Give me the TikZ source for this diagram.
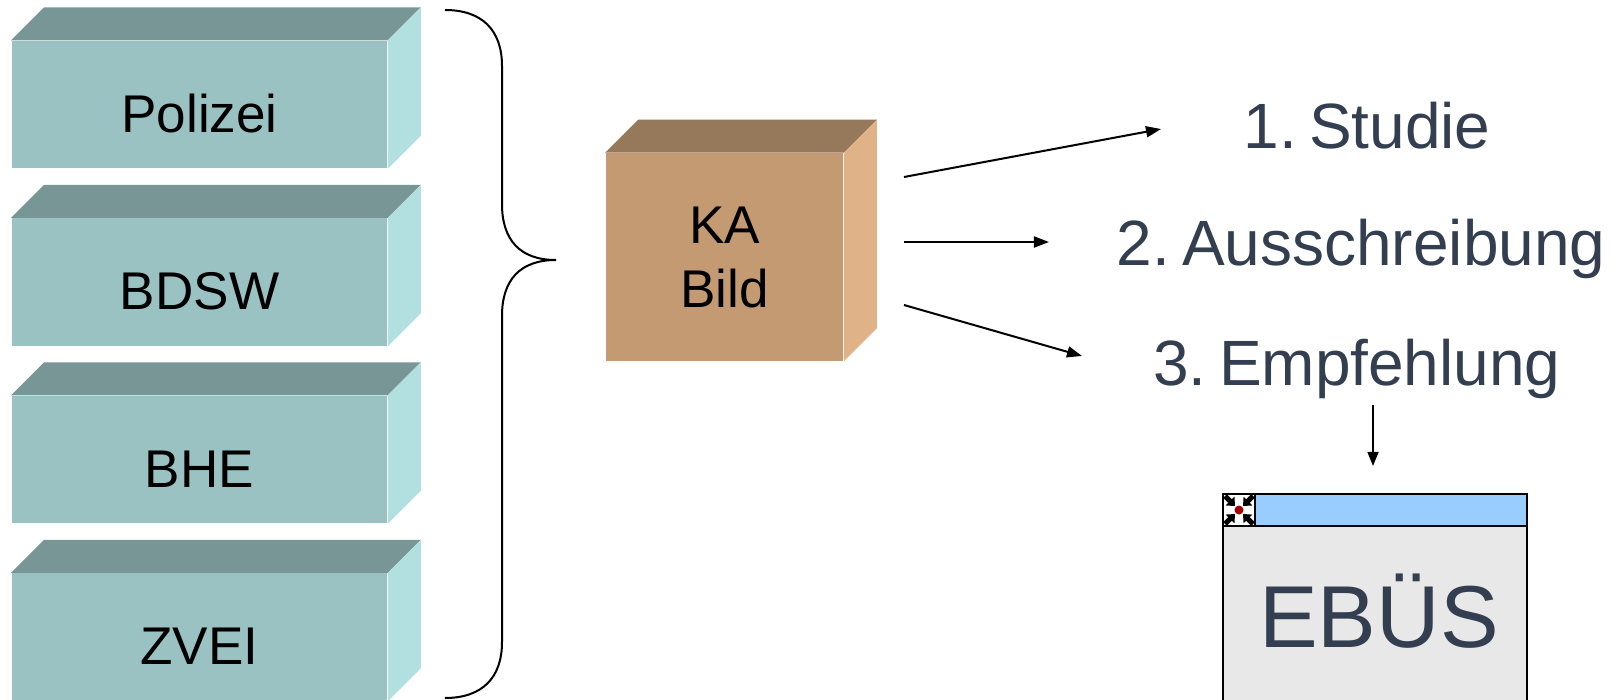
\documentclass[tikz,border=0pt]{standalone}
\usepackage{fontspec}
\setmainfont{Liberation Sans}
\usetikzlibrary{positioning}
\usetikzlibrary{arrows.meta}
\definecolor{tealfront}{HTML}{9BC2C2}
\definecolor{tealtop}{HTML}{789695}
\definecolor{tealside}{HTML}{B2DFDF}
\definecolor{brownfront}{HTML}{C39A72}
\definecolor{browntop}{HTML}{96785A}
\definecolor{brownside}{HTML}{DFB287}
\definecolor{slatetext}{HTML}{333F50}
\definecolor{titleblue}{HTML}{99CCFF}
\definecolor{wingray}{HTML}{E8E8E8}
\tikzset{
    tealbox/.style = {fill=tealfront, minimum width=3.75cm, minimum height=1.27cm, inner sep=0pt, text height=0.55cm, text depth=0cm, font=\fontsize{15.1pt}{18pt}\selectfont, text=black},
    brownbox/.style = {fill=brownfront, minimum width=2.37cm, minimum height=2.07cm, inner sep=0pt, align=center, font=\fontsize{15.1pt}{18.2pt}\selectfont, text=black},
    steptext/.style = {anchor=base, inner sep=0pt, font=\fontsize{18.2pt}{21pt}\selectfont, execute at begin node={\spaceskip=0.1em\relax}, text=slatetext},
    winbody/.style = {draw=black, line width=0.02cm, fill=wingray, anchor=north west, minimum width=3.04cm, minimum height=2.2cm, inner sep=0pt},
    wintitle/.style = {draw=black, line width=0.02cm, fill=titleblue, anchor=north west, minimum width=3.04cm, minimum height=0.32cm, inner sep=0pt},
    winicon/.style = {draw=black, line width=0.02cm, fill=white, anchor=north west, minimum width=0.32cm, minimum height=0.32cm, inner sep=0pt},
    wintext/.style = {anchor=base, inner sep=0pt, font=\fontsize{25pt}{30pt}\selectfont, text=slatetext},
    edgea/.style = {-{Triangle[length=0.15cm,width=0.11cm]}, line width=0.02cm, black},
    edgeb/.style = {-{Triangle[length=0.14cm,width=0.11cm]}, line width=0.015cm, black},
    iconarrow/.style = {-{Triangle[length=0.07cm,width=0.12cm]}, line width=0.05cm, black},
    bracel/.style = {line width=0.02cm, black}
}

\begin{document}
\begin{tikzpicture}[x=0.01cm, y=-0.01cm]
  \useasboundingbox (0,0) rectangle (1614,700);

  % left stack
  \node[tealbox] (polizei) at (199.5,104.5) {Polizei};
  \node[tealbox, below=0.49cm of polizei] (bdsw) {BDSW};
  \node[tealbox, below=0.49cm of bdsw] (bhe) {BHE};
  \node[tealbox, below=0.49cm of bhe] (zvei) {ZVEI};
  \foreach \n in {polizei,bdsw,bhe,zvei}{
    \fill[tealtop] (\n.north west) -- ++(33,-33) -- ([shift={(33,-33)}]\n.north east) -- (\n.north east) -- cycle;
    \fill[tealside] (\n.north east) -- ++(33,-33) -- ([shift={(33,-33)}]\n.south east) -- (\n.south east) -- cycle;
  }

  % brace
  \draw[bracel] (445,10) .. controls (482,10) and (502,30) .. (502,66) -- (502,204)
    .. controls (502,240) and (520,260) .. (556,260)
    .. controls (520,260) and (502,280) .. (502,316) -- (502,642)
    .. controls (502,678) and (482,698) .. (445,698);

  % KA box
  \node[brownbox] (ka) at (724.5,257) {KA\\Bild};
  \fill[browntop] (ka.north west) -- ++(33,-33) -- ([shift={(33,-33)}]ka.north east) -- (ka.north east) -- cycle;
  \fill[brownside] (ka.north east) -- ++(33,-33) -- ([shift={(33,-33)}]ka.south east) -- (ka.south east) -- cycle;

  % steps
  \node[steptext] (studie) at (1367,148) {1. Studie};
  \node[steptext] (ausschr) at (1361,265) {2. Ausschreibung};
  \node[steptext] (empf) at (1357,385) {3. Empfehlung};

  \coordinate (s1) at (904,177);
  \coordinate (e1) at (1161,129);
  \coordinate (s2) at (904,242);
  \coordinate (e2) at (1049,242);
  \coordinate (s3) at (904,305);
  \coordinate (e3) at (1082,356);
  \draw[edgea] (s1) -- (e1);
  \draw[edgea] (s2) -- (e2);
  \draw[edgea] (s3) -- (e3);

  % EBUES window
  \node[winbody] (win) at (1222,493) {};
  \node[wintitle] (title) at (1222,493) {};
  \node[winicon] (icon) at (1222,493) {};
  \foreach \dx/\dy in {1/1,1/-1,-1/1,-1/-1}
    \draw[iconarrow] ([shift={(14*\dx,14*\dy)}]icon.center) -- ([shift={(4*\dx,4*\dy)}]icon.center);
  \fill[red!65!black] (icon.center) circle (0.045cm);
  \node[wintext] (ebues) at (1379,647) {EBÜS};

  \coordinate (s4) at (1373,405);
  \coordinate (e4) at (1373,466);
  \draw[edgeb] (s4) -- (e4);

\end{tikzpicture}
\end{document}
